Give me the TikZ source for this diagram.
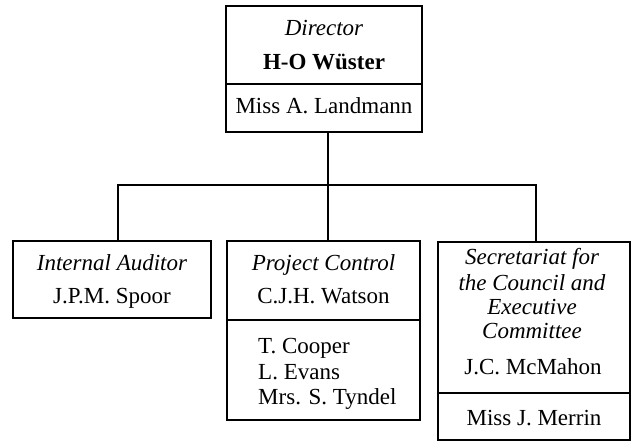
\documentclass[tikz,border=0pt]{standalone}
\usepackage{fontspec}
\setmainfont{Liberation Serif}
\begin{document}
\begin{tikzpicture}[x=1pt,y=-1pt,
  box/.style={draw,line width=2.4pt,minimum width=#1,inner sep=0pt},
  sep/.style={line width=2.2pt},
  conn/.style={line width=2.4pt},
  txt/.style={inner sep=0pt,yshift=-5pt,font=\fontsize{23}{27}\selectfont,text height=0.7em,text depth=0.2em},
  it/.style={txt,font=\fontsize{23}{27}\selectfont\itshape}]
\useasboundingbox (0,0) rectangle (631,443);
% boxes
\node[box=196pt,minimum height=126pt] (dir) at (324,69) {};
\node[box=198pt,minimum height=77pt] (aud) at (112,279.5) {};
\node[box=193pt,minimum height=179pt] (pc) at (323.5,330.5) {};
\node[box=192pt,minimum height=198pt] (sec) at (534,341) {};
% dividers
\draw[sep] (dir.west |- 0,84) -- (dir.east |- 0,84);
\draw[sep] (pc.west |- 0,320) -- (pc.east |- 0,320);
\draw[sep] (sec.west |- 0,393) -- (sec.east |- 0,393);
% connectors
\coordinate (j) at (328,185);
\coordinate (jl) at (118,185);
\coordinate (jr) at (536,185);
\draw[conn] (j |- dir.south) -- (j |- pc.north);
\draw[conn] (jl |- aud.north) -- (jl) -- (jr) -- (jr |- sec.north);
% texts
\node[it] (t1) at (324,28) {Director};
\node[txt,font=\fontsize{23}{27}\selectfont\bfseries] (t2) at (324,62) {H-O Wüster};
\node[txt] (t3) at (324,106) {Miss A. Landmann};
\node[it] (t4) at (112,263) {Internal Auditor};
\node[txt] (t5) at (112,296) {J.P.M. Spoor};
\node[it] (t6) at (323.5,263) {Project Control};
\node[txt] (t7) at (323.5,296) {C.J.H. Watson};
\node[txt,anchor=west] (t8) at (258,346) {T. Cooper};
\node[txt,anchor=west] (t9) at (258,372) {L. Evans};
\node[txt,anchor=west] (t10) at (258,397) {Mrs. S. Tyndel};
\node[it] (t11) at (532,257) {Secretariat for};
\node[it] (t12) at (532,283) {the Council and};
\node[it] (t13) at (532,307) {Executive};
\node[it] (t14) at (532,331) {Committee};
\node[txt] (t15) at (533,367) {J.C. McMahon};
\node[txt] (t16) at (534,418) {Miss J. Merrin};
\end{tikzpicture}
\end{document}
